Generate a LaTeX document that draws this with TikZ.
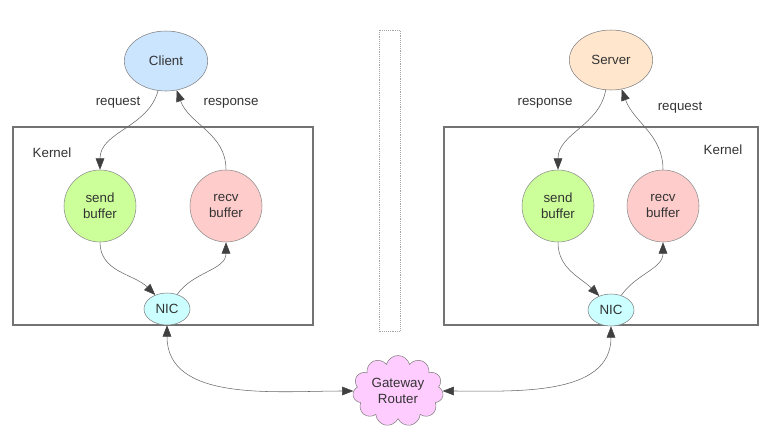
\documentclass[tikz,border=0pt]{standalone}
\usepackage{fontspec}
\setmainfont{Liberation Sans}
\usepackage{tikz}
\usetikzlibrary{shapes.geometric,shapes.symbols,arrows.meta}
\definecolor{clientfill}{HTML}{CCE5FF}
\definecolor{serverfill}{HTML}{FFE6CC}
\definecolor{sendfill}{HTML}{CCFF99}
\definecolor{recvfill}{HTML}{FFCCCC}
\definecolor{nicfill}{HTML}{CCFFFF}
\definecolor{routerfill}{HTML}{FFCCFF}
\begin{document}
\begin{tikzpicture}[x=0.75pt, y=-0.75pt,
  every node/.style={font=\fontsize{10}{12}\selectfont, text=black!80},
  host/.style={ellipse, draw=black!50, minimum width=62.5pt, minimum height=45pt, inner sep=0pt},
  buffer/.style={circle, draw=black!45, minimum size=54pt, inner sep=0pt, align=center},
  nic/.style={ellipse, draw=black!50, fill=nicfill, minimum width=34.5pt, minimum height=24pt, inner sep=0pt},
  flow/.style={draw=black!60, -{Triangle[length=8.5pt,width=6.5pt,color=black!75]}},
  link/.style={draw=black!60, {Triangle[length=8.5pt,width=6.5pt,color=black!75]}-{Triangle[length=8.5pt,width=6.5pt,color=black!75]}}]

\useasboundingbox (0,0) rectangle (781,439);

% client side
\draw[black!55, thick] (13,127) rectangle (313,325);
\node at (52,153) {Kernel};
\path
(166,61) node[host, fill=clientfill] (client) {Client}
(100,206) node[buffer, fill=sendfill] (csend) {send\\buffer}
(226,206) node[buffer, fill=recvfill] (crecv) {recv\\buffer}
(167,309) node[nic] (cnic) {NIC};
\draw[flow] (client.255) to[out=-105, in=90] (csend.north);
\node at (118,103) {request};
\draw[flow] (crecv.north) to[out=90, in=-70] (client.290);
\node at (231,103) {response};
\draw[flow] (csend.south) to[out=-90, in=135] (cnic.130);
\draw[flow] (cnic.55) to[out=55, in=-90] (crecv.south);

% divider
\draw[black!35, densely dotted] (379,30) rectangle (400,331);

% server side
\draw[black!55, thick] (444,127) rectangle (758,325);
\node at (723,150) {Kernel};
\path
(611,60) node[host, fill=serverfill] (server) {Server}
(558,206) node[buffer, fill=sendfill] (ssend) {send\\buffer}
(663,206) node[buffer, fill=recvfill] (srecv) {recv\\buffer}
(611,310) node[nic] (snic) {NIC};
\draw[flow] (server.260) to[out=-100, in=90] (ssend.north);
\node at (545,103) {response};
\draw[flow] (srecv.north) to[out=90, in=-70] (server.290);
\node at (680,108) {request};
\draw[flow] (ssend.south) to[out=-90, in=135] (snic.130);
\draw[flow] (snic.55) to[out=55, in=-90] (srecv.south);

% network
\node[cloud, cloud puffs=11, aspect=1.3, draw=black!50, fill=routerfill,
  minimum width=68pt, minimum height=53pt, inner sep=0pt, align=center]
  (router) at (398,391) {Gateway\\Router};
\draw[link] (cnic.south) to[out=-90, in=180] (router.west);
\draw[link] (snic.south) to[out=-90, in=0] (router.east);

\end{tikzpicture}
\end{document}
